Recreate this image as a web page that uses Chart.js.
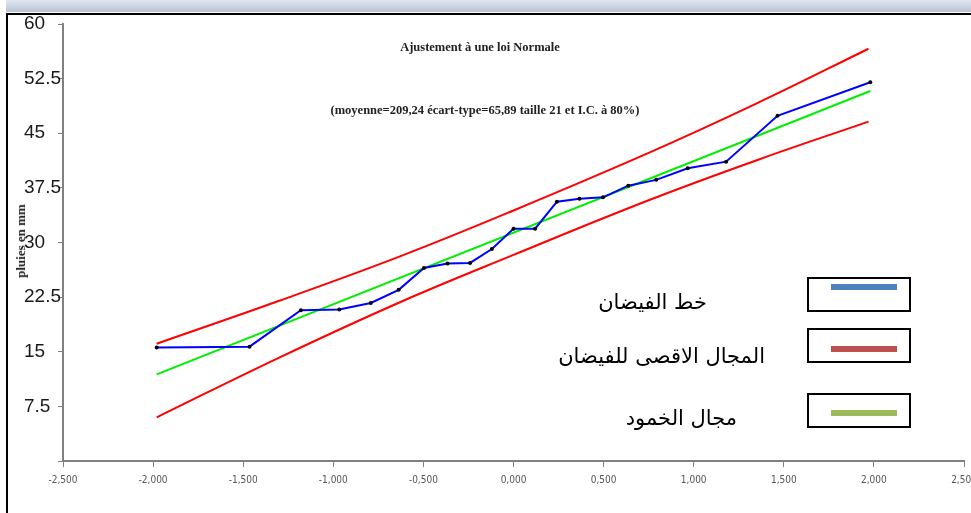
<!DOCTYPE html>
<html>
<head>
<meta charset="utf-8">
<script src="https://cdn.jsdelivr.net/npm/chart.js@4.4.1/dist/chart.umd.min.js"></script>
<style>
  body { margin: 0; background: #fff; }
  #wrap { position: relative; width: 971px; height: 513px; overflow: hidden; }
  #roiChart { position: absolute; left: 0; top: 0; }
  .abs { position: absolute; }
  .topbar { left: 6px; top: 0; width: 965px; height: 12px; background: linear-gradient(#e2e7ef, #b7c2d5); }
  .frameTop { left: 6px; top: 13px; width: 965px; height: 2px; background: #000; }
  .frameLeft { left: 6px; top: 13px; width: 2px; height: 500px; background: #000; }
  .titre { font-family: "Liberation Serif", serif; font-weight: bold; color: #222; white-space: nowrap; transform: translateX(-50%); }
  .ylab { font-family: "Liberation Serif", serif; font-weight: bold; font-size: 13px; color: #222; white-space: nowrap;
          transform: translate(-50%, -50%) rotate(-90deg); }
  .legBox { border: 2px solid #000; width: 104px; height: 35px; box-sizing: border-box; }
  .legLine { height: 6px; width: 66px; }
  .legTxt { font-family: "DejaVu Sans", sans-serif; font-size: 21px; line-height: 26px; color: #000; white-space: nowrap; direction: rtl; }
</style>
</head>
<body>
<div id="wrap">
  <div class="abs topbar"></div>
  <div class="abs frameTop"></div>
  <div class="abs frameLeft"></div>
  <canvas id="roiChart" width="971" height="513"></canvas>

  <div class="abs titre" style="left:480px; top:40px; font-size:12.5px;">Ajustement à une loi Normale</div>
  <div class="abs titre" style="left:485px; top:103px; font-size:12.5px;">(moyenne=209,24 écart-type=65,89 taille 21 et I.C. à 80%)</div>
  <div class="abs ylab" style="left:21px; top:241px;">pluies en mm</div>

  <div class="abs legBox" style="left:807px; top:277px;"></div>
  <div class="abs legLine" style="left:831px; top:284px; background:#4f81bd;"></div>
  <div class="abs legBox" style="left:807px; top:328px;"></div>
  <div class="abs legLine" style="left:831px; top:346px; background:#c0504d;"></div>
  <div class="abs legBox" style="left:807px; top:393px;"></div>
  <div class="abs legLine" style="left:831px; top:410px; background:#9bbb59;"></div>

  <div class="abs legTxt" style="right:264px; top:289px;">خط الفيضان</div>
  <div class="abs legTxt" style="right:206px; top:343px;">المجال الاقصى للفيضان</div>
  <div class="abs legTxt" style="right:234px; top:405px;">مجال الخمود</div>
</div>

<script>
// variable normale reduite (quantiles) et pluies observees (mm)
const zQuantiles = [-1.98, -1.465, -1.18, -0.967, -0.792, -0.637, -0.497, -0.366, -0.241, -0.12, 0,
                    0.12, 0.241, 0.366, 0.497, 0.637, 0.792, 0.967, 1.18, 1.465, 1.98];
const pluies = [15.6, 15.7, 20.7, 20.8, 21.7, 23.5, 26.5, 27.1, 27.2, 29.1, 31.9,
                31.9, 35.6, 36.0, 36.2, 37.8, 38.6, 40.2, 41.1, 47.4, 52.0];

// droite d'ajustement
const ajustX = [-1.98, 1.98];
const ajustY = [11.9, 50.8];

// intervalle de confiance a 80%
const bandX = [-1.98, -1.3, -0.63, 0, 0.75, 1.35, 1.97];
const bandHaut = [16.1, 22.0, 28.1, 34.4, 42.3, 49.1, 56.6];
const bandBas = [6.0, 14.2, 21.8, 28.3, 35.8, 41.3, 46.6];

// tick labels
const yTicks = [0, 7.5, 15, 22.5, 30, 37.5, 45, 52.5, 60];
const xMin = -2.5, xMax = 2.5, xStep = 0.5;

const toPts = (xs, ys) => xs.map((x, i) => ({ x: x, y: ys[i] }));

const datasets = [
  {
    label: 'pluies',
    data: toPts(zQuantiles, pluies),
    showLine: true,
    borderColor: '#0000ff',
    borderWidth: 2,
    pointRadius: 2,
    pointBackgroundColor: '#000',
    pointBorderWidth: 0,
    order: 0
  },
  {
    label: 'ajustement',
    data: toPts(ajustX, ajustY),
    showLine: true,
    borderColor: '#00ee00',
    borderWidth: 2,
    pointRadius: 0,
    order: 1
  },
  {
    label: 'IC haut',
    data: toPts(bandX, bandHaut),
    showLine: true,
    borderColor: '#ff0000',
    borderWidth: 2,
    pointRadius: 0,
    tension: 0.4,
    order: 2
  },
  {
    label: 'IC bas',
    data: toPts(bandX, bandBas),
    showLine: true,
    borderColor: '#ff0000',
    borderWidth: 2,
    pointRadius: 0,
    tension: 0.4,
    order: 2
  }
];

const chart = new Chart(document.getElementById('roiChart'), {
  type: 'scatter',
  data: { datasets: datasets },
  options: {
    responsive: false,
    animation: false,
    devicePixelRatio: 1,
    layout: { padding: { left: 24, right: 7, top: 24, bottom: 0 } },
    plugins: {
      legend: { display: false },
      tooltip: { enabled: false }
    },
    scales: {
      x: {
        type: 'linear',
        min: xMin,
        max: xMax,
        afterFit: s => { s.height = 52; s.paddingLeft = 0; s.paddingRight = 0; },
        ticks: {
          stepSize: xStep,
          padding: 7,
          color: '#555',
          font: { family: '"Liberation Sans Narrow", "DejaVu Sans Condensed", sans-serif', size: 10 },
          maxRotation: 0,
          callback: v => Number(v).toFixed(3).replace('.', ',')
        },
        grid: { drawOnChartArea: false, tickLength: 6, color: '#808080', lineWidth: 1 },
        border: { color: '#808080', width: 2 }
      },
      y: {
        type: 'linear',
        min: yTicks[0],
        max: yTicks[yTicks.length - 1],
        afterFit: s => { s.width = 39; s.paddingTop = 0; s.paddingBottom = 0; },
        afterBuildTicks: s => { s.ticks = yTicks.map(v => ({ value: v })); },
        ticks: {
          crossAlign: 'far',
          color: '#1a1a1a',
          font: { family: '"Liberation Sans", sans-serif', size: 19 },
          callback: v => v === 0 ? '' : String(v)
        },
        grid: { drawOnChartArea: false, tickLength: 5, color: '#808080', lineWidth: 1 },
        border: { color: '#808080', width: 2 }
      }
    }
  }
});
</script>
</body>
</html>
